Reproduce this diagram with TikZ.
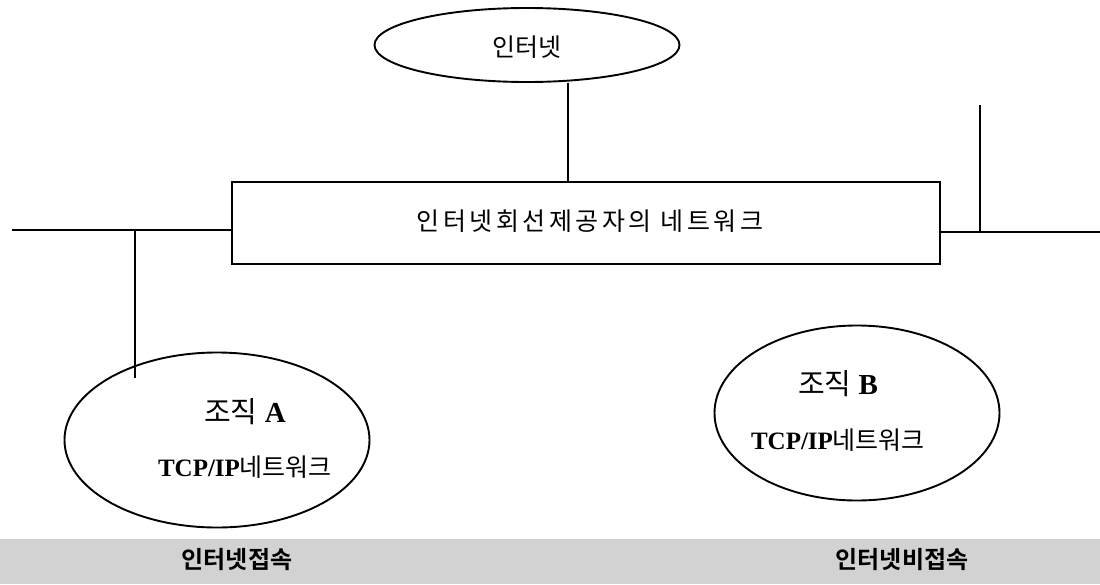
\documentclass[tikz,border=0pt]{standalone}
\usepackage{fontspec}
\setmainfont{Liberation Serif}
\newfontfamily\kr{Noto Sans CJK KR}
\newfontfamily\krs[LetterSpace=14]{Noto Sans CJK KR}
\newfontfamily\krb{Noto Sans CJK KR Bold}
\usetikzlibrary{shapes.geometric}
\begin{document}
\begin{tikzpicture}[x=1pt,y=-1pt,
  wire/.style={line width=1.9pt},
  oval/.style={ellipse,draw,line width=1.9pt,inner sep=0pt},
  lab/.style={font=\fontsize{25}{27}\selectfont},
  biglab/.style={font=\fontsize{29}{31}\selectfont},
  bandlab/.style={font=\krb\fontsize{24}{26}\selectfont}]
\useasboundingbox (0,0) rectangle (1100,584);
\fill[gray!35] (0,539) rectangle (1100,584);
\node[oval,minimum width=305pt,minimum height=74pt] (inet) at (527,45) {};
\node[lab] at (527,47) {\kr 인터넷};
\node[draw,line width=1.9pt,minimum width=708pt,minimum height=82pt,inner sep=0pt] (isp) at (586,223) {};
\node[lab] at (590,221) {\krs 인터넷회선제공자의 네트워크};
\coordinate (ispt) at (568,182);
\draw[wire] (inet.south -| ispt) -- (ispt);
\coordinate (L) at (12,230);
\coordinate (R) at (1100,232);
\draw[wire] (L) -- (isp.west |- L);
\draw[wire] (isp.east |- R) -- (R);
\coordinate (Rt) at (980,105);
\draw[wire] (Rt) -- (Rt |- R);
\node[oval,minimum width=305pt,minimum height=175pt] (orgA) at (217,440) {};
\node[oval,minimum width=285pt,minimum height=175pt] (orgB) at (857,413) {};
\coordinate (La) at (135,230);
\coordinate (Lb) at (135,378);
\draw[wire] (La) -- (Lb);
\node[biglab] (ta1) at (245,412) {{\kr 조직} \textbf{A}};
\node[lab] (ta2) at (245,467) {\textbf{TCP/IP}{\kr 네트워크}};
\node[biglab] (tb1) at (838,384) {{\kr 조직} \textbf{B}};
\node[lab] (tb2) at (838,440) {\textbf{TCP/IP}{\kr 네트워크}};
\node[bandlab] (b1) at (237,560) {인터넷접속};
\node[bandlab] (b2) at (902,560) {인터넷비접속};
\end{tikzpicture}
\end{document}
